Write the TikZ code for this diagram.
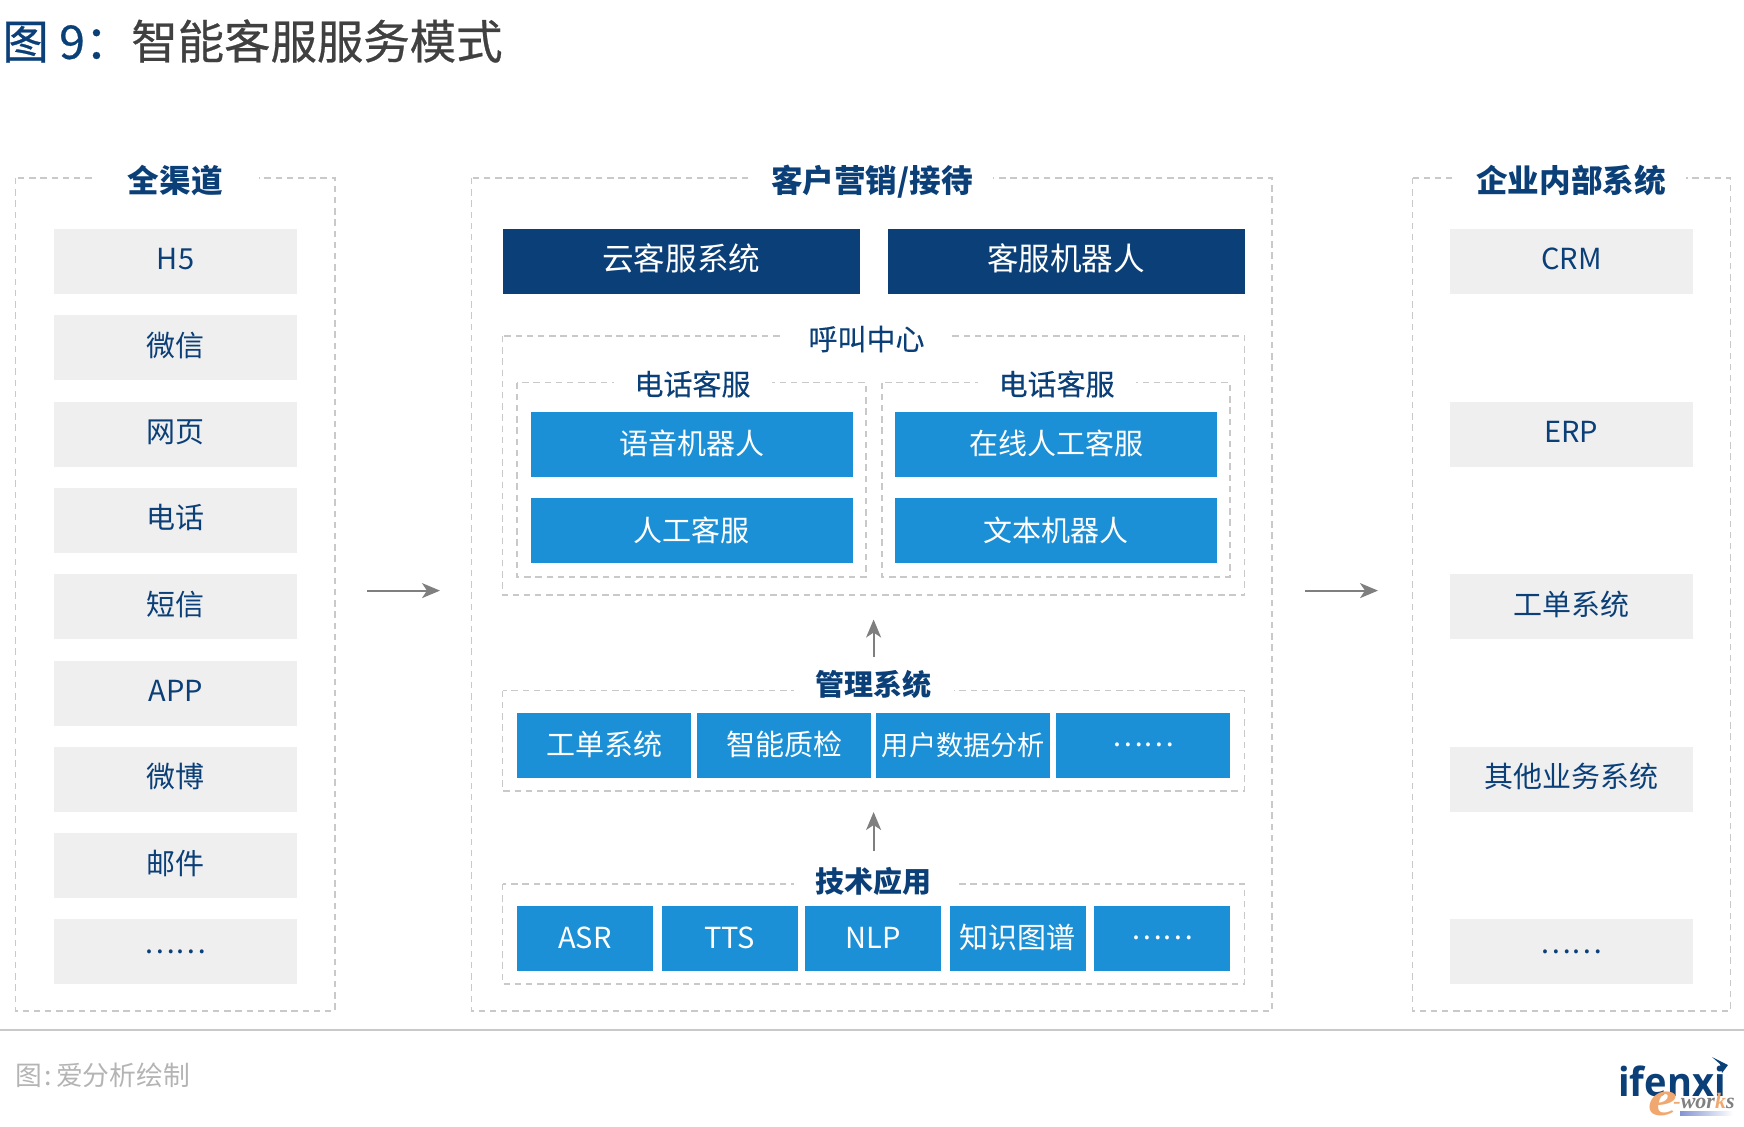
\documentclass[tikz,border=0pt]{standalone}
\usepackage{fontspec}
\setmainfont{Noto Sans CJK SC}
\newfontfamily\logosans{Open Sans}
\newfontfamily\logoserif{Liberation Serif}
\usetikzlibrary{arrows.meta}
\definecolor{navy}{HTML}{0B3F78}
\definecolor{skyblue}{HTML}{1B90D6}
\definecolor{palegrey}{HTML}{EFEFEF}
\definecolor{dashgrey}{HTML}{C9C9C9}
\definecolor{titlegrey}{HTML}{404040}
\definecolor{arrowgrey}{HTML}{7F7F7F}
\definecolor{notegrey}{HTML}{B4B4B4}
\definecolor{logoorange}{HTML}{F0A870}
\newcommand{\moredots}[1][3.3pt]{\raisebox{#1}{……}}
\tikzset{
  frame/.style={draw=dashgrey,line width=0.7pt,dash pattern=on 3.2pt off 2.4pt},
  cell/.style={inner sep=0pt,text height=0.96em,text depth=0.12em,font=\fontsize{14.5}{17}\selectfont},
  greybox/.style={cell,fill=palegrey,text=navy,minimum width=121.4pt,minimum height=32.5pt},
  darkbox/.style={cell,fill=navy,text=white,text height=1.02em,font=\fontsize{15.8}{19}\selectfont,minimum width=178.5pt,minimum height=32.5pt},
  bluebox/.style={cell,fill=skyblue,text=white,text height=1.18em,minimum width=161.2pt,minimum height=32.5pt},
  mgrbox/.style={bluebox,minimum width=87pt},
  techbox/.style={bluebox,minimum width=68pt},
  headline/.style={fill=white,text=navy,inner ysep=0pt,inner xsep=10pt,text height=0.88em,text depth=0.12em,font=\fontsize{15.8}{19}\selectfont\bfseries},
  subline/.style={fill=white,text=navy,inner ysep=0pt,inner xsep=13pt,font=\fontsize{14.5}{17}\selectfont\addfontfeature{FakeBold=0.3}},
  boldline/.style={subline,inner xsep=11pt,font=\fontsize{14.5}{17}\selectfont\bfseries},
  flow/.style={draw=arrowgrey,line width=1pt,-{Stealth[length=9pt,width=7.5pt,inset=2.5pt]}}
}
\begin{document}
\begin{tikzpicture}[x=0.5pt,y=-0.5pt]
\useasboundingbox (0,0) rectangle (1744,1126);
\draw (2,41) node[anchor=west,inner sep=0pt,font=\fontsize{23.2}{28}\selectfont\addfontfeature{FakeBold=0.6}] (heading) {\textcolor{navy}{图 9：}\textcolor{titlegrey}{智能客服服务模式}}; %title

\draw[frame] (15.6,178) rectangle (335,1011); %channels
\draw (175.2,184.4) node[headline,inner xsep=18pt] (channelhead) {全渠道};
\draw (175.6,261.5) node[greybox] (hfive) {H5};
\draw (175.6,347.8) node[greybox] (wechat) {微信};
\draw (175.6,434.1) node[greybox] (web) {网页};
\draw (175.6,520.4) node[greybox] (phone) {电话};
\draw (175.6,606.7) node[greybox] (sms) {短信};
\draw (175.6,693) node[greybox] (app) {APP};
\draw (175.6,779.3) node[greybox] (weibo) {微博};
\draw (175.6,865.6) node[greybox] (mail) {邮件};
\draw (175.6,951.9) node[greybox] (channelmore) {\moredots};

\draw[frame] (471.6,178) rectangle (1272,1011); %marketing
\draw (872,184.4) node[headline] (marketinghead) {客户营销/接待};
\draw (681.2,261.5) node[darkbox] (cloud) {云客服系统};
\draw (1066,261.5) node[darkbox] (robot) {客服机器人};

\draw[frame] (502.7,336) rectangle (1244.5,595); %call centre
\draw (866.5,339) node[subline] (callhead) {呼叫中心};
\draw[frame] (517,382.6) rectangle (866,577);
\draw[frame] (882,382.6) rectangle (1230,577);
\draw (692.5,384) node[subline,inner xsep=10.5pt] (phonehead) {电话客服};
\draw (1056.6,384) node[subline,inner xsep=10.5pt] (onlinehead) {电话客服};
\draw (691.7,444) node[bluebox] (voice) {语音机器人};
\draw (691.7,530.5) node[bluebox] (agent) {人工客服};
\draw (1056,444) node[bluebox] (online) {在线人工客服};
\draw (1056,530.5) node[bluebox] (text) {文本机器人};

\draw[frame] (502.7,690.7) rectangle (1244.5,790.8); %management
\draw (873.6,684) node[boldline] (mgrhead) {管理系统};
\draw (604,745) node[mgrbox] (ticket) {工单系统};
\draw (784,745) node[mgrbox] (quality) {智能质检};
\draw (963.4,745) node[mgrbox,font=\fontsize{13.6}{16}\selectfont] (analysis) {用户数据分析};
\draw (1143.3,745) node[mgrbox] (mgrmore) {\moredots[4.6pt]};

\draw[frame] (502.7,884) rectangle (1244.5,984); %technology
\draw (873.6,881) node[boldline] (techhead) {技术应用};
\draw (585,938) node[techbox] (asr) {ASR};
\draw (729.5,938) node[techbox] (tts) {TTS};
\draw (873.4,938) node[techbox] (nlp) {NLP};
\draw (1017.7,938) node[techbox] (graph) {知识图谱};
\draw (1162,938) node[techbox] (techmore) {\moredots[4.6pt]};

\draw[frame] (1412.5,178) rectangle (1730.6,1011); %internal systems
\draw (1571,184.4) node[headline] (systemhead) {企业内部系统};
\draw (1571.4,261.5) node[greybox] (crm) {CRM};
\draw (1571.4,434.1) node[greybox] (erp) {ERP};
\draw (1571.4,606.7) node[greybox] (tickets) {工单系统};
\draw (1571.4,779.3) node[greybox] (others) {其他业务系统};
\draw (1571.4,951.9) node[greybox] (systemmore) {\moredots};

\coordinate (leftfrom) at (367,590.6); %arrows
\coordinate (leftto) at (440,590.6);
\coordinate (rightfrom) at (1305,590.6);
\coordinate (rightto) at (1378,590.6);
\coordinate (mgrfrom) at (873.6,657);
\coordinate (mgrto) at (873.6,619.5);
\coordinate (techfrom) at (873.6,851);
\coordinate (techto) at (873.6,812);
\draw[flow] (leftfrom) -- (leftto);
\draw[flow] (rightfrom) -- (rightto);
\draw[flow] (mgrfrom) -- (mgrto);
\draw[flow] (techfrom) -- (techto);

\coordinate (ruleleft) at (0,1030); %footer
\coordinate (ruleright) at (1744,1030);
\draw[dashgrey,line width=1pt] (ruleleft) -- (ruleright);
\draw (15,1075) node[anchor=west,inner sep=0pt,text=notegrey,font=\fontsize{13.4}{16}\selectfont] (source) {图\kern1pt:\kern2.2pt爱分析绘制};

\draw (1672,1096) node[anchor=base,inner sep=0pt,text=navy,xscale=0.95,font=\logosans\fontsize{20}{24}\selectfont\bfseries] (logoname) {ifenxi}; %logo
\fill[navy] (1712,1057) -- (1728,1065) -- (1722,1073) -- (1720,1064) -- cycle;
\shade[left color=blue!35!navy!50,right color=white] (1680,1111) rectangle (1733,1115);
\draw (1663,1115) node[anchor=base,inner sep=0pt,text=logoorange,xscale=1.3,font=\logoserif\fontsize{25}{28}\selectfont\itshape\bfseries] (logoe) {e};
\draw (1704,1108) node[anchor=base,inner sep=0pt,text=gray,font=\logoserif\fontsize{11}{12}\selectfont\itshape\bfseries] (logoworks) {\textcolor{logoorange}{-}wor\textcolor{logoorange}{k}s};
\end{tikzpicture}
\end{document}
